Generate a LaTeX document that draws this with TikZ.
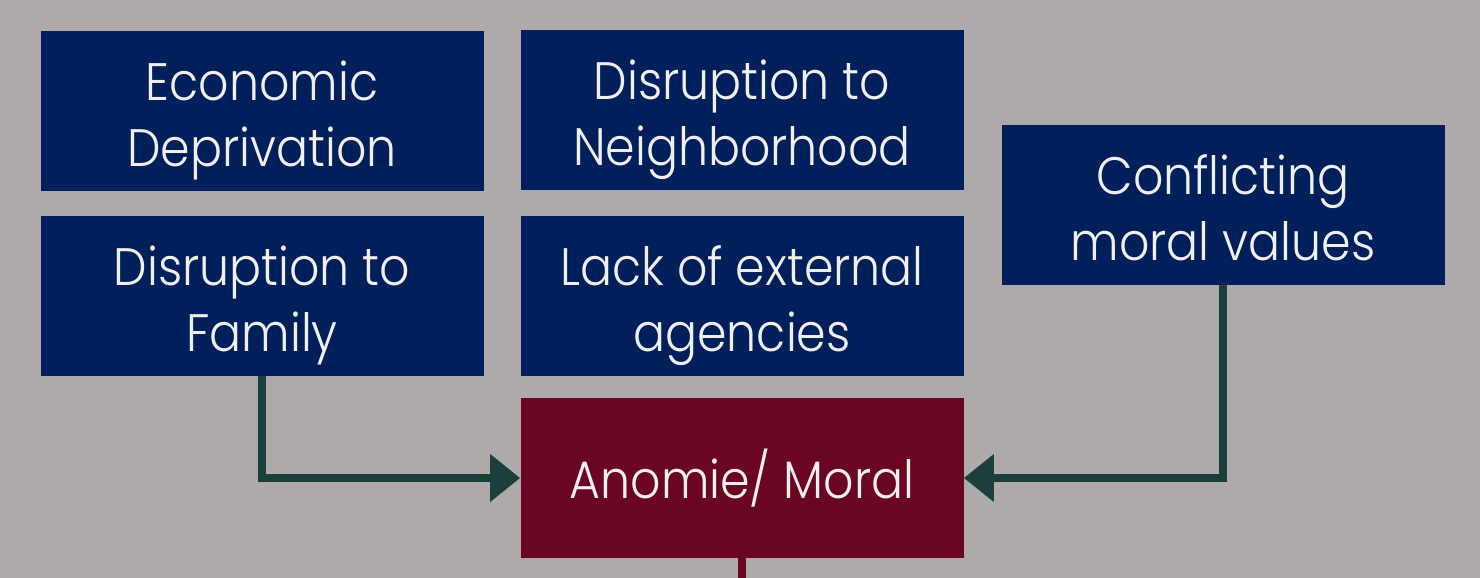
\documentclass[tikz,border=0pt]{standalone}
\usepackage{fontspec}
\setmainfont{Poppins}[UprightFont=* Light, FakeStretch=0.9]
\usetikzlibrary{arrows.meta}
\definecolor{bggrey}{HTML}{AEAAA9}
\definecolor{boxnavy}{HTML}{001F5B}
\definecolor{boxmaroon}{HTML}{6A0624}
\definecolor{linkteal}{HTML}{1B3F3A}
\begin{document}
\begin{tikzpicture}[
		factor/.style={rectangle, fill=boxnavy, text=white!94!black, minimum width=8.86cm, minimum height=3.2cm,
				align=center, inner sep=0pt, font=\fontsize{30}{38}\selectfont,
				text height=68.6pt, text depth=5pt},
		outcome/.style={rectangle, fill=boxmaroon, text=white!94!black, minimum width=8.86cm, minimum height=3.2cm,
				inner sep=0pt, font=\fontsize{30}{38}\selectfont},
		link/.style={draw=linkteal, line width=5pt, -{Triangle[length=0.6cm,width=0.92cm]}}
	]
	\fill[bggrey] (0,0) rectangle (29.6,-11.56);
	\useasboundingbox (0,0) rectangle (29.6,-11.56);

	\node[factor] (econ) at (5.24,-2.22) {Economic\\Deprivation};
	\node[factor] (neigh) at (14.84,-2.2) {Disruption to\\Neighborhood};
	\node[factor] (family) at (5.24,-5.92) {Disruption to\\Family};
	\node[factor] (lack) at (14.84,-5.92) {Lack of external\\agencies};
	\node[factor] (conflict) at (24.46,-4.1) {Conflicting\\moral values};
	\node[outcome] (anomie) at (14.84,-9.56) {Anomie/ Moral};
	\coordinate (stem) at (14.84,-11.56);

	\draw[link] (family.south) |- (anomie.west);
	\draw[link] (conflict.south) |- (anomie.east);
	\draw[boxmaroon, line width=5pt] (anomie.south) -- (stem);
\end{tikzpicture}
\end{document}
